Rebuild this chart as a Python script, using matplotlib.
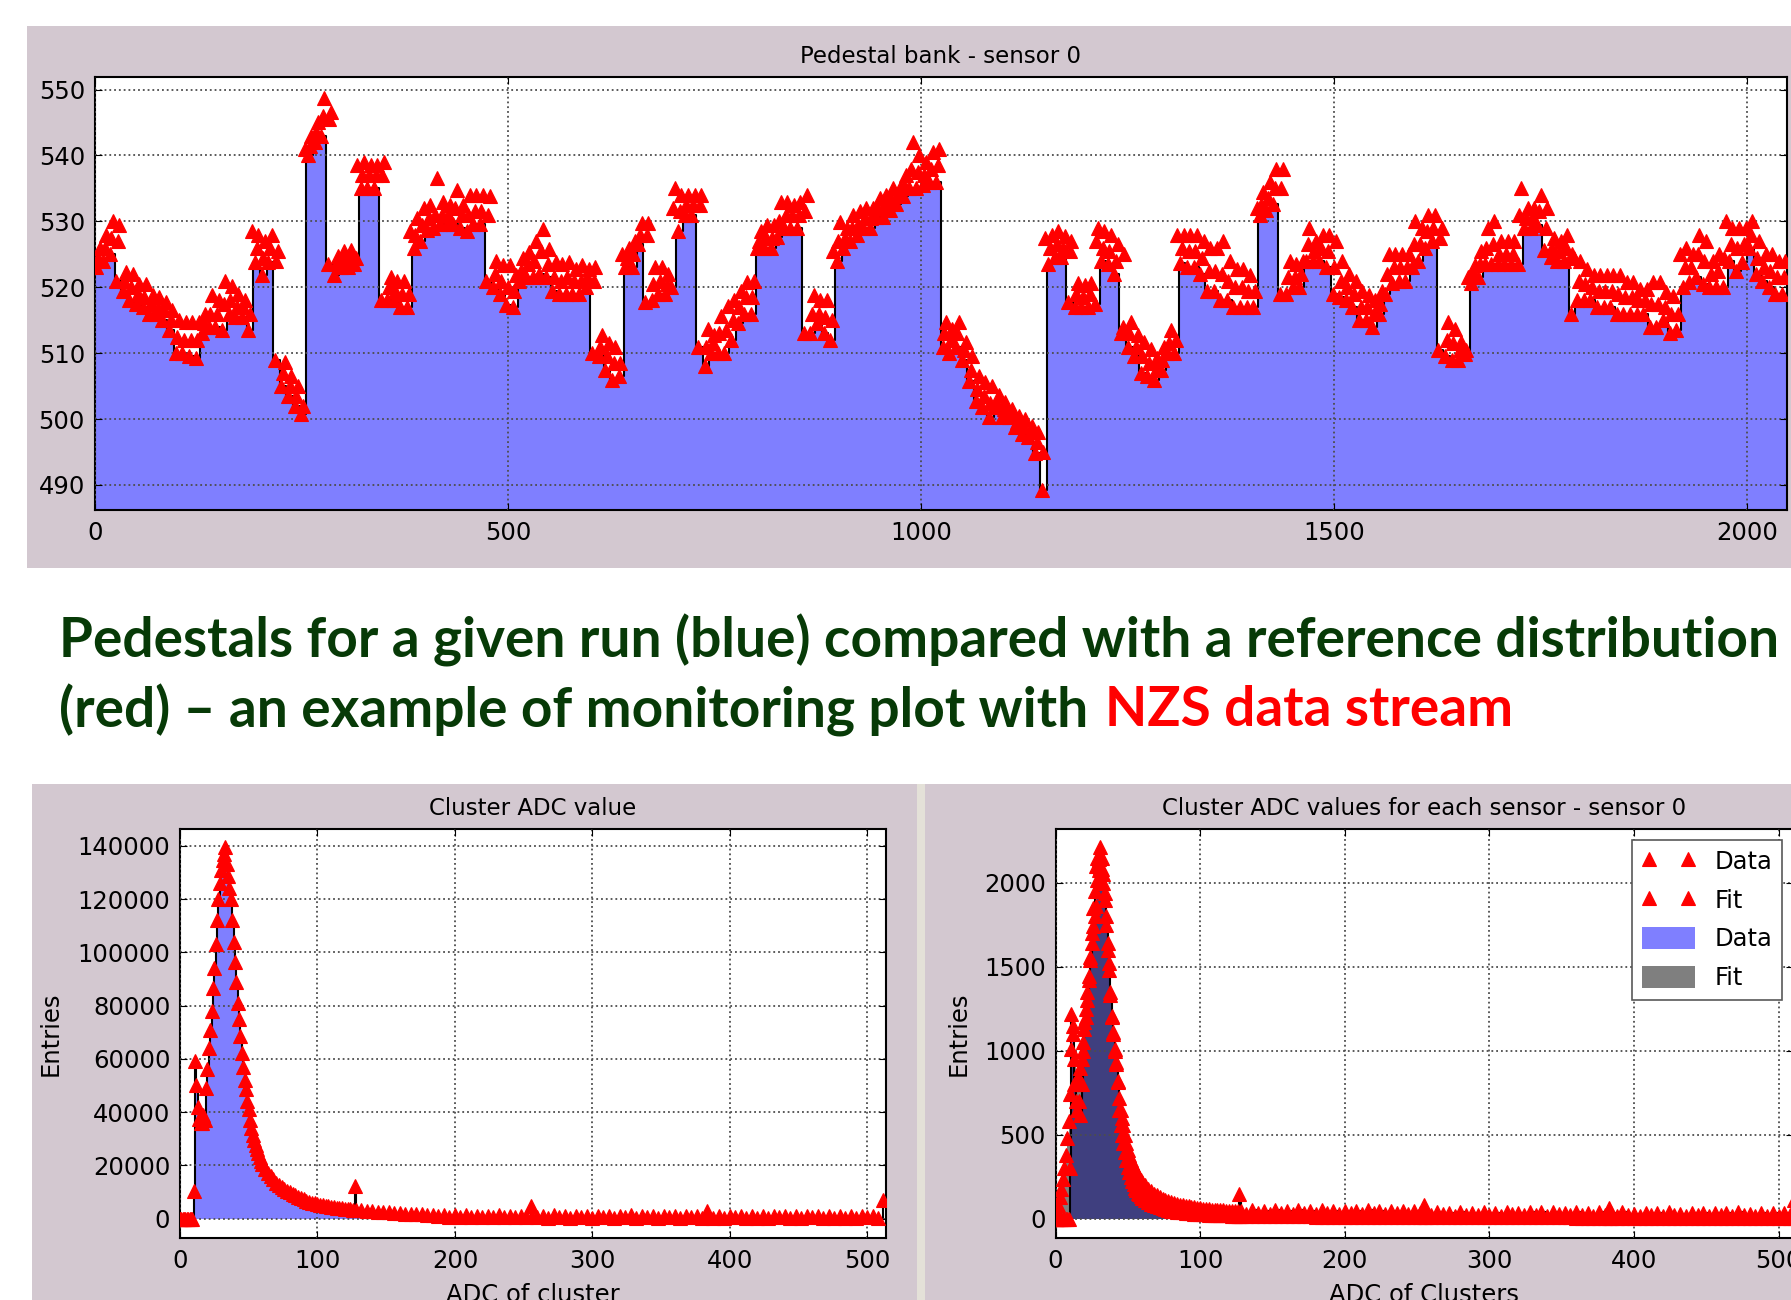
import numpy as np
import matplotlib
matplotlib.use("Agg")
import matplotlib.pyplot as plt
from matplotlib.patches import Rectangle

# ---------------- pedestal bank, sensor 0 ----------------
# reference band (red triangles) read per group of 8 channels: top, middle, bottom of the band
ped_ch = np.arange(4, 2048, 8)
ped_hi = [
    526, 528, 530, 529.5, 522.3, 522, 520.5, 520.5, 518.8, 518.5, 517.8, 516.5, 515, 514.7, 514.7, 514.7,
    516, 518.8, 518, 521, 520.2, 519, 518, 528.5, 528, 527, 528, 525.5, 508.7, 506.6, 505, 541,
    543, 545, 548.7, 546.6, 524.8, 525.5, 525.7, 538.5, 539, 538.6, 538.6, 539, 521.5, 521, 521, 528.5,
    530.5, 532, 532.5, 536.5, 532.9, 532.5, 534.7, 532.5, 534, 534, 534, 533.8, 524, 523.3, 523.3, 521.8,
    524.4, 525.4, 527, 528.9, 525.8, 523.8, 523.5, 523.8, 522.8, 523.3, 522.8, 523, 512.7, 511.5, 511, 525,
    526, 527, 529.8, 529.8, 523, 523, 522, 535, 534, 534, 534, 534, 513.7, 512.7, 515.7, 517.2,
    518, 519.5, 520.8, 521, 528.5, 529.5, 529.5, 533, 533, 532.5, 533, 534, 518.8, 518, 518, 525.5,
    529.9, 529, 531, 531.5, 532, 532, 533.5, 534, 535, 535, 537, 542, 540, 539, 540.5, 541,
    514.7, 513.7, 514.7, 511.7, 509.6, 506.6, 505.6, 505, 503.6, 502.6, 501.6, 500.5, 500, 499, 498, 527.5,
    528, 528.5, 527.8, 527, 520.7, 520.3, 520.7, 529, 528.5, 528, 526.5, 525, 514.7, 512.7, 511.7, 510.7,
    509.3, 511, 513.5, 528, 528, 528, 528, 527, 525.9, 526, 527, 524, 522.8, 522.8, 521.8, 532,
    534.5, 536, 538, 538, 524, 523.5, 524, 529, 527, 528, 528, 527, 524, 522, 521, 519.5,
    518.8, 518, 519.5, 525, 525, 525, 525, 530, 529, 531, 531, 529, 514.7, 513.7, 511.7, 521.5,
    523.3, 525.5, 529, 530, 527, 527, 527, 535, 532, 532, 534, 532, 527.5, 527, 528, 524.5,
    524, 522.8, 521.8, 521.8, 521.8, 521.8, 521.8, 520.8, 520.8, 519.8, 519.8, 520.8, 520.8, 519.3, 518.7, 525,
    526, 525, 528, 527, 524, 525, 530, 529, 529, 529, 530, 527, 525, 525, 524, 524,
]
ped_mid = [
    524.5, 526, 527.5, 527, 521, 520, 519, 518.5, 517.5, 517, 516.5, 515, 512.5, 512, 512, 512,
    514.5, 516, 516, 517.5, 518, 517, 517, 516, 526, 524.5, 526, 524, 507, 505, 503.5, 502,
    541.5, 543.5, 546, 545.5, 523.5, 524, 524.5, 524.5, 537, 537, 537, 537, 520, 519.5, 519, 519,
    528, 529.5, 530.5, 531, 531, 531, 532, 531, 531, 531.5, 531.5, 531, 522, 521, 520, 519.5,
    522.5, 523.5, 524, 525.5, 523.5, 521.5, 521, 521.5, 521, 521, 521.5, 521, 511, 509.5, 508.5, 508.5,
    524.5, 525, 528, 528, 520.5, 521, 520.5, 532, 531.5, 532.5, 532.5, 532.5, 511, 511.5, 513, 513.5,
    515, 517, 518.5, 518.5, 527, 527.5, 527.5, 530, 531, 531, 531, 531.5, 516, 516, 515.5, 515,
    527, 527.5, 529, 529.5, 530.5, 530.5, 532, 532.5, 533.5, 534, 535.5, 538, 537.5, 537, 538, 538.5,
    513, 512, 513, 510.5, 507.5, 504.5, 503.5, 502.5, 502.5, 501.5, 501, 499.5, 499, 498, 496.5, 495,
    526, 526.5, 526, 525.5, 519, 518.5, 519, 527, 526, 525.5, 524, 514, 513, 511, 509.5, 508.5,
    507.5, 509, 511.5, 512, 526, 525.5, 525.5, 524.5, 522.5, 522.5, 522, 521, 520, 520, 519.5, 519.5,
    532.5, 533.5, 535, 535, 521.5, 521.5, 522, 526.5, 525.5, 526, 525.5, 523, 521, 520, 519, 517,
    517, 516, 517.5, 522, 523, 523, 523, 526.5, 526.5, 528.5, 529, 527.5, 512, 511.5, 510.5, 510.5,
    522, 523.5, 526, 526.5, 525, 525, 525, 531, 530.5, 530.5, 531.5, 529, 526, 525.5, 526, 525,
    521, 520.5, 520, 519.5, 519.5, 519.5, 519, 518.5, 518.5, 518, 518, 517.5, 517.5, 517, 516, 516,
    523, 523, 525, 524, 522, 522.5, 524.5, 526.5, 526, 526.5, 528, 524.5, 523, 522.5, 521.5, 521.5,
]
ped_lo = [
    523, 524, 525, 521, 519.5, 518, 517.5, 517, 516, 516, 515, 513.5, 510, 510, 509.5, 509.3,
    513, 514, 514, 513.5, 516, 515.5, 515.5, 513.5, 523.8, 521.8, 523.8, 509, 505, 503.5, 502, 500.7,
    540, 542, 543, 523.5, 521.8, 523, 523, 523.5, 535, 535, 535, 518, 518, 518, 517, 517,
    526, 527, 528.7, 529, 529.6, 529.6, 529.6, 529, 528.5, 529.6, 529.6, 521, 520, 519, 517.3, 517,
    521, 521.5, 521.5, 522, 521.5, 519.5, 519, 519, 519, 519, 520, 510, 509.5, 507.5, 506, 506.5,
    523, 523, 526.6, 517.8, 518, 519, 519, 520, 528.5, 531, 531, 511, 508, 510, 510, 510,
    512, 514.5, 516, 516, 526, 526, 526, 527.6, 529, 529, 529, 513, 513, 514.5, 513, 512,
    524, 526, 527, 528, 529, 529, 530.7, 530.7, 531.7, 532.7, 533.8, 535, 535, 535.5, 536, 536,
    511, 510, 511, 509, 505.8, 502.8, 501.8, 500.3, 501.8, 500.3, 500.3, 498.8, 497.8, 497.3, 494.8, 489.2,
    523.5, 524.6, 524.6, 517.8, 517, 517, 517, 517.5, 524, 523.5, 522, 513, 511, 509.5, 507, 506.5,
    506, 507.5, 510, 510, 523.7, 523, 523, 522, 519.5, 519.5, 518, 518, 517, 517, 517, 517,
    531, 531.7, 532.7, 519, 519, 520, 520, 524, 524, 524, 523, 519, 518.5, 518, 517, 515,
    515, 514, 516, 519, 520.6, 521, 521, 523, 524, 526, 527, 510.5, 509.5, 509, 509, 509.8,
    520.6, 521.5, 523.5, 523.5, 523.5, 523.5, 523.5, 523.5, 529, 529, 529.5, 525.6, 524.6, 524, 524, 516,
    518, 518, 518, 517, 517, 517, 516, 516, 516, 516, 516, 514, 514, 515, 513, 513.5,
    520, 520.8, 521.5, 520.5, 520, 520, 520, 524, 522.5, 523.8, 526, 522, 521, 520, 519, 519,
]

# ---------------- cluster ADC histograms ----------------
adc_x = np.r_[0:61, 62:127:2, 127, 128:253:4, 255, 256:381:4, 383, 384:509:4, 511]

cluster_counts = (
    [0] * 10
    + [10200, 59000, 50000, 42000, 37500, 36000, 36000, 39000, 37000, 49000,
       56000, 64000, 71000, 78000, 86500, 94000, 103000, 112000, 120000, 126000,
       131000, 134500, 137000, 139500, 133000, 128500, 124000, 120000, 112000, 104000,
       96500, 89000, 81000, 75000, 68500, 62000, 57000, 52000, 48500, 44000,
       41000, 37000, 34000, 31500, 29500, 27500, 26000, 24500, 23000, 21500, 20500]
    + [18500, 17200, 16000, 14700, 13500, 12700, 11900, 11100, 10400, 9800, 9300,
       8800, 8200, 7700, 7200, 6700, 6300, 6000, 5700, 5400, 5200, 5000,
       4800, 4600, 4400, 4200, 4100, 3900, 3800, 3700, 3600, 3500, 3400]
    + [12100]
    + [3300, 3100, 2900, 2700, 2600, 2400, 2300, 2200, 2000, 1900, 1800, 1700, 1600, 1500, 1400, 1100,
       1250, 600, 1200, 500, 1150, 700, 1100, 400, 1050, 650, 1150, 450, 1000, 600, 1100, 400]
    + [4600]
    + [1100, 400, 1000, 300, 1150, 500, 900, 250, 1050, 450, 1000, 300, 1100, 550, 900, 350,
       1000, 400, 1150, 300, 950, 500, 1050, 250, 1000, 450, 1100, 350, 900, 500, 1050, 300]
    + [2800]
    + [1000, 300, 950, 200, 1050, 400, 850, 250, 1000, 350, 900, 200, 1050, 450, 850, 300,
       950, 250, 1000, 400, 900, 200, 1050, 350, 950, 300, 850, 250, 1000, 400, 900, 300]
    + [6800]
)

s0_data = (
    [0] * 10
    + [300, 1220, 1100, 800, 700, 650, 700, 620, 800, 1000,
       1170, 1200, 1300, 1420, 1560, 1700, 1850, 1950, 2100, 2150,
       2140, 2213, 2150, 2000, 1900, 1750, 1600, 1480, 1330, 1200,
       1100, 1000, 920, 820, 720, 650, 600, 560, 500, 450,
       410, 380, 350, 330, 310, 290, 270, 260, 245, 230, 220]
    + [200, 180, 165, 150, 140, 130, 120, 110, 105, 100, 95, 90, 85, 80, 78, 75, 70,
       68, 65, 62, 60, 58, 56, 55, 53, 52, 50, 50, 48, 47, 46, 45, 45]
    + [150]
    + [45, 30, 50, 35, 48, 28, 52, 33, 46, 30, 50, 36, 44, 28, 50, 34,
       46, 30, 48, 35, 44, 28, 50, 32, 46, 30, 48, 34, 44, 28, 46, 32]
    + [85]
    + [38, 20, 42, 26, 35, 18, 40, 24, 37, 21, 43, 25, 34, 19, 41, 27,
       36, 22, 39, 24, 38, 17, 42, 26, 35, 21, 40, 23, 37, 19, 41, 25]
    + [65]
    + [34, 16, 38, 22, 31, 15, 36, 20, 33, 17, 39, 21, 30, 15, 37, 23,
       32, 18, 35, 20, 34, 14, 38, 22, 31, 17, 36, 19, 33, 15, 37, 21]
    + [110]
)

s0_fit = (
    [0, 30, 80, 130, 180, 240, 300, 380, 480, 580]
    + [740, 1010, 1150, 950, 820, 800, 830, 900, 950, 1050,
       1130, 1250, 1350, 1445, 1540, 1640, 1740, 1800, 1860, 2015,
       2075, 2095, 2080, 2055, 1940, 1800, 1640, 1525, 1350, 1210,
       1110, 1010, 935, 815, 650, 560, 500, 450, 400, 350,
       310, 280, 250, 225, 205, 185, 170, 155, 145, 135, 125]
    + [110, 100, 90, 82, 75, 68, 62, 57, 53, 49, 46, 43, 40, 38, 36, 34, 32,
       30, 29, 28, 27, 26, 25, 24, 23, 22, 21, 21, 20, 20, 19, 19, 18]
    + [18]
    + [18, 18, 17, 17, 16, 16, 16, 15, 15, 15, 14, 14, 14, 13, 13, 13,
       13, 12, 12, 12, 12, 11, 11, 11, 11, 11, 10, 10, 10, 10, 10, 10]
    + [10]
    + [10, 10, 10, 10, 9, 9, 9, 9, 9, 9, 9, 9, 9, 9, 8, 8,
       8, 8, 8, 8, 8, 8, 8, 8, 8, 8, 7, 7, 7, 7, 7, 7]
    + [7]
    + [7, 7, 7, 7, 7, 7, 6, 6, 6, 6, 6, 6, 6, 6, 6, 6,
       6, 6, 6, 6, 5, 5, 5, 5, 5, 5, 5, 5, 5, 5, 5, 5]
    + [5]
)

# ---------------- figure ----------------
plt.rcParams.update({
    "font.family": "DejaVu Sans",
    "font.size": 17.5,
    "axes.titlesize": 16.5,
    "axes.linewidth": 1.5,
    "xtick.direction": "in",
    "ytick.direction": "in",
    "xtick.top": True,
    "ytick.right": True,
    "xtick.major.size": 5,
    "ytick.major.size": 5,
    "xtick.major.pad": 8,
    "ytick.major.pad": 7,
    "grid.color": "0.3",
    "grid.linestyle": ":",
    "grid.linewidth": 1.3,
})

W, H = 1791, 1300
fig = plt.figure(figsize=(W / 100, H / 100), dpi=100)
panel_col = "#d3c8d0"


def panel(l, t, r, b, color):
    fig.add_artist(Rectangle((l / W, 1 - b / H), (r - l) / W, (b - t) / H,
                             transform=fig.transFigure, color=color, lw=0, zorder=-5))


def px_axes(l, t, r, b):
    return fig.add_axes([l / W, 1 - b / H, (r - l) / W, (b - t) / H])


panel(27, 26, W, 568, panel_col)
panel(32, 784, 917, H, panel_col)
panel(917, 784, 925, H, "#e4e1d8")
panel(925, 784, W, H, panel_col)

tri = dict(ls="none", marker="^", ms=10.5, color="red", mec="red", mew=0.8, zorder=3)

# top: pedestals
ax = px_axes(94.7, 77, 1787, 510)
edges = np.arange(0, 2049, 8)
lo_ext = np.append(ped_lo, ped_lo[-1])
ax.fill_between(edges, lo_ext, 0, step="post", color="blue", alpha=0.5, lw=0, zorder=1)
ax.step(edges, lo_ext, where="post", color="k", lw=1.5, zorder=2)
for shift, vals in ((-2, ped_lo), (0, ped_mid), (2, ped_hi)):
    ax.plot(ped_ch + shift, vals, **tri)
ax.set_xlim(0, 2048)
ax.set_ylim(486.2, 551.9)
ax.set_xticks([0, 500, 1000, 1500, 2000])
ax.set_yticks(range(490, 551, 10))
ax.set_axisbelow(False)
ax.grid(True)
ax.set_title("Pedestal bank - sensor 0", pad=10)

x_edges = np.append(adc_x, 512)

# bottom left: cluster ADC value
ax2 = px_axes(180, 829, 886, 1238)
c_ext = np.append(cluster_counts, cluster_counts[-1])
ax2.fill_between(x_edges, c_ext, step="post", color="blue", alpha=0.5, lw=0, zorder=1)
ax2.step(x_edges, c_ext, where="post", color="k", lw=1.5, zorder=2)
ax2.plot(adc_x, cluster_counts, **tri)
ax2.set_xlim(0, 513.5)
ax2.set_ylim(-7300, 146300)
ax2.set_xticks(range(0, 501, 100))
ax2.set_yticks(range(0, 140001, 20000))
ax2.set_axisbelow(False)
ax2.grid(True)
ax2.set_title("Cluster ADC value", pad=10)
ax2.set_ylabel("Entries")
ax2.set_xlabel("ADC of cluster")
ax2.yaxis.set_label_coords(-0.166, 0.5)
ax2.xaxis.set_label_coords(0.5, -0.11)

# bottom right: cluster ADC for sensor 0 with fit
ax3 = px_axes(1055.5, 829, 1793, 1238)
d_ext = np.append(s0_data, s0_data[-1])
f_ext = np.append(s0_fit, s0_fit[-1])
ax3.plot(adc_x, s0_data, label="Data", **tri)
ax3.plot(adc_x, s0_fit, label="Fit", **tri)
ax3.fill_between(x_edges, d_ext, step="post", color="blue", alpha=0.5, lw=0, zorder=1, label="Data")
ax3.fill_between(x_edges, f_ext, step="post", color="black", alpha=0.5, lw=0, zorder=1, label="Fit")
ax3.step(x_edges, d_ext, where="post", color="k", lw=1.5, zorder=2)
ax3.set_xlim(0, 510)
ax3.set_ylim(-114, 2320)
ax3.set_xticks(range(0, 501, 100))
ax3.set_yticks(range(0, 2001, 500))
ax3.set_axisbelow(False)
ax3.grid(True)
ax3.set_title("Cluster ADC values for each sensor - sensor 0", pad=10)
ax3.set_ylabel("Entries")
ax3.set_xlabel("ADC of Clusters")
ax3.yaxis.set_label_coords(-0.1146, 0.5)
ax3.xaxis.set_label_coords(0.5, -0.11)
leg = ax3.legend(loc="upper right", numpoints=2, fancybox=False, framealpha=1,
                 edgecolor="0.35", borderaxespad=0.45, labelspacing=0.6,
                 handleheight=1.0, handlelength=2.2)
leg.get_frame().set_linewidth(1.2)

# slide text between the panels
green = "#073a07"
line1 = "Pedestals for a given run (blue) compared with a reference distribution"
line2 = "(red) \u2013 an example of monitoring plot with"
t1 = fig.text(59 / W, 1 - 640 / H, line1, fontsize=36, fontweight="bold",
              family=["Lato", "DejaVu Sans"], color=green, ha="left", va="center")
fig.canvas.draw()
r = fig.canvas.get_renderer()
fs = 36 * 1717 / t1.get_window_extent(r).width
t1.set_fontsize(fs)
t2 = fig.text(59 / W, 1 - 710 / H, line2, fontsize=fs, fontweight="bold",
              family=["Lato", "DejaVu Sans"], color=green, ha="left", va="center")
fig.canvas.draw()
x_end = t2.get_window_extent(r).x1 + 0.3 * fs * 100 / 72
fig.text(x_end / W, 1 - 710 / H, "NZS data stream", fontsize=fs, fontweight="bold",
         family=["Lato", "DejaVu Sans"], color="red", ha="left", va="center")

fig.savefig("out.png", dpi=100)
